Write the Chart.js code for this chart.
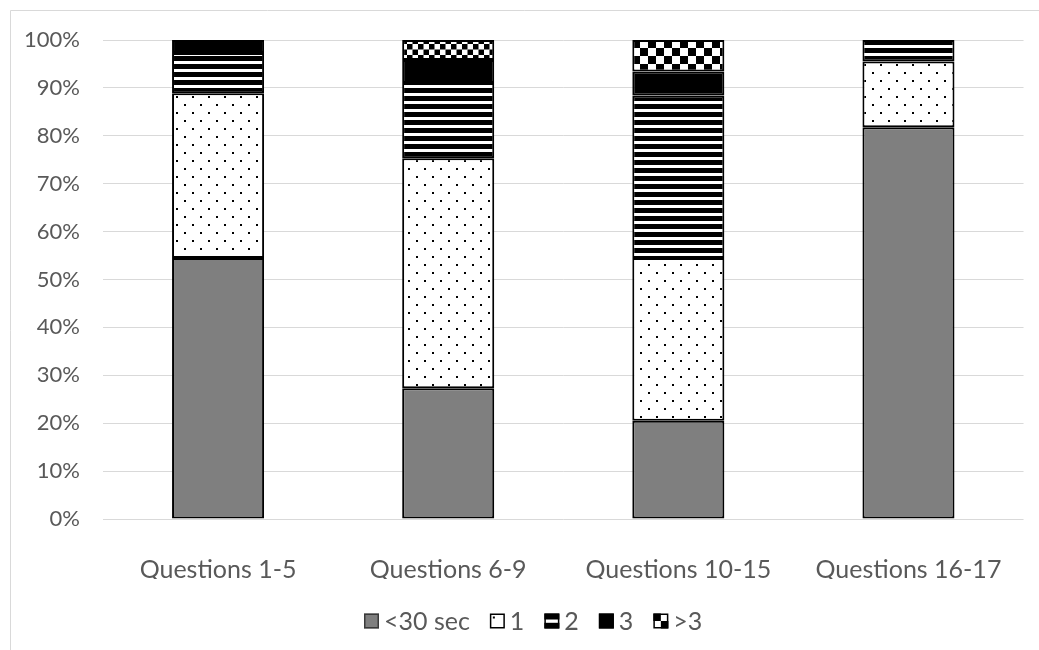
<!DOCTYPE html>
<html>
<head>
<meta charset="utf-8">
<script src="https://cdn.jsdelivr.net/npm/chart.js@4"></script>
<style>
  html, body { margin: 0; padding: 0; background: #ffffff; }
  #wrap { width: 1039px; height: 650px; }
</style>
</head>
<body>
<div id="wrap"><canvas id="c" width="1039" height="650"></canvas></div>
<script>
// Share of answers by time taken, per group of questions (percent)
const categories = ['Questions 1-5', 'Questions 6-9', 'Questions 10-15', 'Questions 16-17'];
const seriesNames = ['<30 sec', '1', '2', '3', '>3'];
const under30 = [54.5, 27.3, 20.5, 81.8];
const one     = [34.4, 48.0, 34.0, 13.7];
const two     = [8.4, 15.7, 33.9, 4.5];
const three   = [2.7, 4.8, 5.0, 0];
const over3   = [0, 4.2, 6.6, 0];
const yTicks  = [0, 10, 20, 30, 40, 50, 60, 70, 80, 90, 100];

const TEXT = '#595959';
const GRID = '#d9d9d9';
const GREY = '#7f7f7f';
const FONT = 'Lato, "Open Sans", sans-serif';

const canvas = document.getElementById('c');
const ctx = canvas.getContext('2d');

function makeTile(w, h, paint) {
  const t = document.createElement('canvas');
  t.width = w; t.height = h;
  const g = t.getContext('2d');
  g.fillStyle = '#ffffff';
  g.fillRect(0, 0, w, h);
  g.fillStyle = '#000000';
  paint(g);
  return ctx.createPattern(t, 'repeat');
}

// sparse staggered dots
const dotFill = makeTile(16, 16, g => { g.fillRect(0, 0, 2, 2); g.fillRect(8, 8, 2, 2); });
// wide horizontal stripes
const stripeFill = makeTile(8, 8, g => { g.fillRect(0, 0, 8, 5); });
// checkerboards, fine and coarse
const checkSmall = makeTile(11, 11, g => { g.fillRect(0, 0, 5.5, 5.5); g.fillRect(5.5, 5.5, 5.5, 5.5); });
const checkLarge = makeTile(16, 16, g => { g.fillRect(0, 0, 8, 8); g.fillRect(8, 8, 8, 8); });

const fills = [
  GREY,
  dotFill,
  stripeFill,
  '#000000',
  [checkLarge, checkSmall, checkLarge, checkLarge]
];
const values = [under30, one, two, three, over3];

// legend swatches
function drawSwatch(g, i, x, y, s) {
  g.save();
  g.fillStyle = '#ffffff';
  g.fillRect(x, y, s, s);
  g.fillStyle = '#000000';
  if (i === 0) { g.fillStyle = GREY; g.fillRect(x, y, s, s); }
  if (i === 1) { g.fillRect(x + 3, y + 3, 2, 2); }
  if (i === 2) { g.fillRect(x, y, s, s * 0.4); g.fillRect(x, y + s * 0.62, s, s * 0.38); }
  if (i === 3) { g.fillRect(x, y, s, s); }
  if (i === 4) { g.fillRect(x, y, s / 2, s / 2); g.fillRect(x + s / 2, y + s / 2, s / 2, s / 2); }
  g.strokeStyle = i === 0 ? '#3a3a3a' : '#000000';
  g.lineWidth = 1.5;
  g.strokeRect(x + 0.75, y + 0.75, s - 1.5, s - 1.5);
  g.restore();
}

const frameAndLegend = {
  id: 'frameAndLegend',
  beforeDraw(chart) {
    const g = chart.ctx;
    g.save();
    g.fillStyle = '#ffffff';
    g.fillRect(0, 0, chart.width, chart.height);
    g.strokeStyle = GRID;
    g.lineWidth = 1;
    g.beginPath();
    g.moveTo(10.5, chart.height);
    g.lineTo(10.5, 10.5);
    g.lineTo(chart.width, 10.5);
    g.stroke();
    g.restore();
  },
  afterDraw(chart) {
    const g = chart.ctx;
    const s = 15, gap = 5, itemGap = 20, cy = 621;
    g.save();
    g.font = '25px ' + FONT;
    g.textBaseline = 'middle';
    g.fillStyle = TEXT;
    const widths = seriesNames.map(n => g.measureText(n).width);
    const total = widths.reduce((a, w) => a + s + gap + w, 0) + itemGap * (seriesNames.length - 1);
    let x = Math.round(533 - total / 2);
    seriesNames.forEach((n, i) => {
      drawSwatch(g, i, x, cy - s / 2, s);
      g.fillStyle = TEXT;
      g.fillText(n, x + s + gap, cy + 1);
      x += s + gap + widths[i] + itemGap;
    });
    g.restore();
  }
};

new Chart(ctx, {
  type: 'bar',
  data: {
    labels: categories,
    datasets: seriesNames.map((name, i) => ({
      label: name,
      data: values[i],
      backgroundColor: fills[i],
      borderColor: '#000000',
      borderWidth: 2,
      borderSkipped: false,
      barPercentage: 0.4,
      categoryPercentage: 1.0
    }))
  },
  options: {
    responsive: false,
    animation: false,
    events: [],
    layout: { padding: { left: 0, right: 13, top: 40, bottom: 71 } },
    plugins: {
      legend: { display: false },
      tooltip: { enabled: false }
    },
    scales: {
      x: {
        stacked: true,
        grid: { display: false, drawTicks: false },
        border: { display: false },
        ticks: { color: TEXT, font: { family: FONT, size: 25 }, padding: 36 },
        afterFit(scale) { scale.height = 60; }
      },
      y: {
        stacked: true,
        min: 0,
        max: 100,
        afterBuildTicks(scale) { scale.ticks = yTicks.map(v => ({ value: v })); },
        grid: { color: GRID, lineWidth: 1, drawTicks: false },
        border: { display: false },
        ticks: {
          color: TEXT,
          font: { family: FONT, size: 22 },
          padding: 23,
          callback: v => v + '%'
        },
        afterFit(scale) { scale.width = 103; }
      }
    }
  },
  plugins: [frameAndLegend]
});
</script>
</body>
</html>
